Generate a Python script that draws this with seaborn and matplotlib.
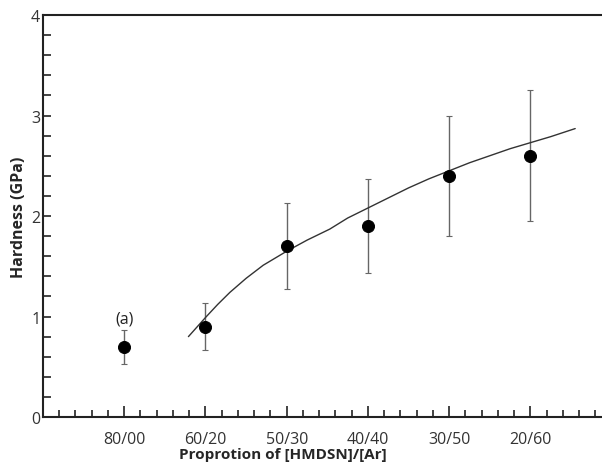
import numpy as np
import pandas as pd
import seaborn as sns
import matplotlib.pyplot as plt
from matplotlib.ticker import MultipleLocator

sns.set_style("white")
plt.rcParams["font.family"] = ["Open Sans", "DejaVu Sans"]

# measured points
labels = ["80/00", "60/20", "50/30", "40/40", "30/50", "20/60"]
pos = [1, 2, 3, 4, 5, 6]
hardness = [0.70, 0.90, 1.70, 1.90, 2.40, 2.60]
err = [0.17, 0.23, 0.43, 0.47, 0.60, 0.65]

# fitted curve
fit_x = [1.79, 2.0, 2.15, 2.3, 2.5, 2.71, 3.0, 3.25, 3.53, 3.75, 4.0, 4.25,
         4.5, 4.75, 5.0, 5.25, 5.5, 5.75, 6.0, 6.25, 6.55]
fit_y = [0.80, 0.99, 1.12, 1.24, 1.38, 1.51, 1.65, 1.76, 1.87, 1.98, 2.08, 2.18,
         2.28, 2.37, 2.45, 2.53, 2.60, 2.67, 2.73, 2.79, 2.87]

df = pd.DataFrame({"x": pos, "h": hardness, "e": err})
fit = pd.DataFrame({"x": fit_x, "y": fit_y})

fig = plt.figure(figsize=(6.02, 4.64), dpi=100)
ax = fig.add_axes([0.0714, 0.0991, 0.9286, 0.8664])

ax.errorbar(df.x, df.h, yerr=df.e, fmt="none", ecolor="#666666",
            elinewidth=1.0, capsize=2, capthick=0.8, zorder=2)
sns.lineplot(data=fit, x="x", y="y", ax=ax, color="#333333", lw=1.0,
             sort=False, zorder=3)
sns.scatterplot(data=df, x="x", y="h", ax=ax, color="black", s=75,
                edgecolor="black", zorder=4)

ax.text(1.0, 0.9, "(a)", ha="center", va="bottom", fontsize=11.5, color="#222222")

ax.set_xlim(0, 6.88)
ax.set_ylim(0, 4)
ax.set_xticks(pos)
ax.set_xticklabels(labels)
ax.xaxis.set_minor_locator(MultipleLocator(0.2))
ax.set_yticks([0, 1, 2, 3, 4])
ax.yaxis.set_minor_locator(MultipleLocator(0.2))

ax.tick_params(axis="x", which="major", direction="in", length=8, width=1.2,
               labelsize=11.5, pad=10, colors="#222222", labelcolor="#333333")
ax.tick_params(axis="x", which="minor", direction="in", length=5, width=1.2,
               colors="#222222")
ax.tick_params(axis="y", which="major", direction="in", length=6, width=1.2,
               labelsize=11.5, pad=2, colors="#222222", labelcolor="#333333")
ax.tick_params(axis="y", which="minor", direction="in", length=6, width=1.2,
               colors="#222222")
ax.tick_params(bottom=True, left=True, which="both")

for side in ["left", "bottom", "top"]:
    ax.spines[side].set_linewidth(1.5)
    ax.spines[side].set_color("#222222")
ax.spines["right"].set_visible(False)

ax.set_xlabel("Proprotion of [HMDSN]/[Ar]", fontsize=11, fontweight="bold")
ax.xaxis.set_label_coords(0.43, -0.074)
ax.set_ylabel("Hardness (GPa)", fontsize=11.5, fontweight="bold", labelpad=3)

fig.savefig("out.png", dpi=100)
